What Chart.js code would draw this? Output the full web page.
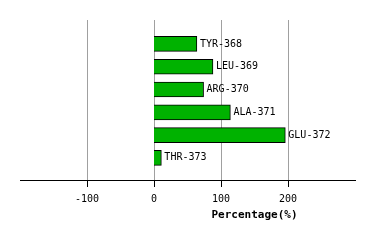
<!DOCTYPE html>
<html>
<head>
<meta charset="utf-8">
<script src="https://cdn.jsdelivr.net/npm/chart.js@4/dist/chart.umd.min.js"></script>
<style>
  html, body { margin: 0; padding: 0; background: #fff; }
  #wrap { width: 374px; height: 240px; }
</style>
</head>
<body>
<div id="wrap"><canvas id="myChart" width="374" height="240"></canvas></div>
<script>
'use strict';

// DATA
let residues = ['TYR-368', 'LEU-369', 'ARG-370', 'ALA-371', 'GLU-372', 'THR-373'];
let percentages = [64, 88, 74, 114, 196, 11];
let xTicks = [-100, 0, 100, 200];
let axisTitle = 'Percentage(%)';

// bar points, one per residue
let barPoints = [];
for (let i = 0; i < residues.length; i++) {
  barPoints.push({ x: percentages[i], y: i });
}

// grey vertical grid lines, black tick marks, residue labels, axis title
const extras = {
  id: 'extras',
  beforeDatasetsDraw(chart) {
    let ctx = chart.ctx;
    let area = chart.chartArea;
    let xScale = chart.scales.x;
    ctx.save();
    ctx.fillStyle = '#a0a0a0';
    for (let i = 0; i < xTicks.length; i++) {
      let px = Math.round(xScale.getPixelForValue(xTicks[i]));
      ctx.fillRect(px, area.top, 1, area.bottom - area.top);
    }
    ctx.restore();
  },
  afterDraw(chart) {
    let ctx = chart.ctx;
    let area = chart.chartArea;
    let xScale = chart.scales.x;
    let yScale = chart.scales.y;
    ctx.save();
    ctx.fillStyle = '#000';
    for (let i = 0; i < xTicks.length; i++) {
      let px = Math.round(xScale.getPixelForValue(xTicks[i]));
      ctx.fillRect(px, Math.round(area.bottom), 1, 7);
    }
    ctx.font = '10px "DejaVu Sans Mono", monospace';
    ctx.textBaseline = 'middle';
    ctx.textAlign = 'left';
    for (let i = 0; i < residues.length; i++) {
      let px = xScale.getPixelForValue(percentages[i]) + 3;
      let py = yScale.getPixelForValue(i);
      ctx.fillText(residues[i], px, py);
    }
    ctx.font = 'bold 11px "DejaVu Sans Mono", monospace';
    ctx.textAlign = 'center';
    ctx.fillText(axisTitle, xScale.getPixelForValue(150), area.bottom + 35);
    ctx.restore();
  }
};

const config = {
  type: 'bar',
  data: {
    datasets: [{
      data: barPoints,
      backgroundColor: 'rgb(0,178,0)',
      borderColor: '#000',
      borderWidth: 1,
      barThickness: 15
    }]
  },
  options: {
    indexAxis: 'y',
    responsive: false,
    animation: false,
    layout: { padding: { left: 20, right: 19, top: 20, bottom: 0 } },
    plugins: { legend: { display: false }, tooltip: { enabled: false } },
    scales: {
      x: {
        type: 'linear',
        min: -200,
        max: 300,
        afterBuildTicks(scale) {
          scale.ticks = xTicks.map(v => ({ value: v }));
        },
        afterFit(scale) {
          scale.height = 60;
        },
        grid: { display: false, tickLength: 7 },
        border: { display: true, color: '#000', width: 1 },
        ticks: {
          color: '#000',
          padding: 6,
          maxRotation: 0,
          font: { family: '"DejaVu Sans Mono", monospace', size: 10 }
        }
      },
      y: {
        type: 'linear',
        min: -1.05,
        max: 5.97,
        offset: false,
        reverse: true,
        display: false
      }
    }
  },
  plugins: [extras]
};

let canvasChart = document.getElementById('myChart');
const myChart = new Chart(canvasChart, config);
</script>
</body>
</html>
